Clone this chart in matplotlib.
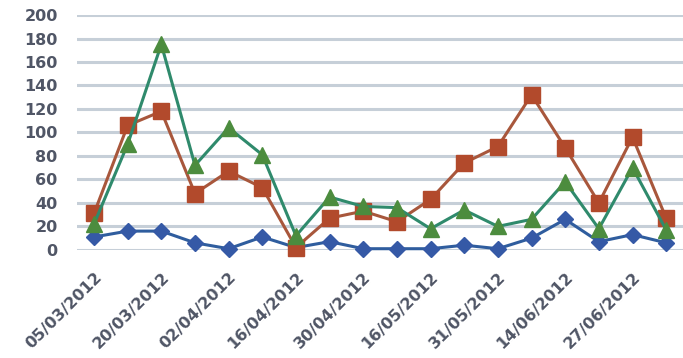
import numpy as np
import matplotlib
matplotlib.use("Agg")
import matplotlib.pyplot as plt

# Etiquetas del eje x (una de cada dos fechas)
etiquetas = ["05/03/2012", "20/03/2012", "02/04/2012", "16/04/2012", "30/04/2012",
             "16/05/2012", "31/05/2012", "14/06/2012", "27/06/2012"]

# Series (18 puntos)
serie_azul = [11, 16, 16, 6, 1, 11, 2, 7, 1, 1, 1, 4, 1, 10, 26, 7, 13, 6]
serie_roja = [31, 106, 118, 48, 67, 53, 2, 27, 33, 24, 43, 74, 88, 132, 87, 40, 96, 27]
serie_verde = [22, 90, 175, 72, 104, 81, 12, 45, 37, 36, 18, 34, 20, 26, 58, 18, 70, 17]

x = np.arange(len(serie_azul))

fig = plt.figure(figsize=(6.83, 3.58), dpi=100)
ax = fig.add_axes([0.113, 0.302, 0.887, 0.656])

# Rejilla horizontal
for v in range(0, 201, 20):
    ax.axhline(v, color="#c6cfd8", lw=2.2, zorder=0)

ax.plot(x, serie_azul, color="#2f5d9e", lw=2.2, marker="D", ms=8,
        mfc="#3559a6", mec="#3559a6", clip_on=False, zorder=3)
ax.plot(x, serie_roja, color="#a8573c", lw=2.2, marker="s", ms=11,
        mfc="#b24a2c", mec="#b24a2c", clip_on=False, zorder=4)
ax.plot(x, serie_verde, color="#2f8a6c", lw=2.2, marker="^", ms=11,
        mfc="#4c8c3e", mec="#4c8c3e", clip_on=False, zorder=5)

ax.set_xlim(-0.5, len(x) - 0.5)
ax.set_ylim(0, 200)
ax.set_yticks(range(0, 201, 20))
ax.set_xticks(x[::2])
ax.set_xticklabels(etiquetas, rotation=45, ha="right", rotation_mode="anchor")

for lab in ax.get_yticklabels() + ax.get_xticklabels():
    lab.set_fontsize(11.5)
    lab.set_fontweight("bold")
    lab.set_color("#505666")

ax.tick_params(axis="both", length=0)
ax.tick_params(axis="y", pad=14)
ax.tick_params(axis="x", pad=14)
for s in ax.spines.values():
    s.set_visible(False)

fig.savefig("out.png", dpi=100)
